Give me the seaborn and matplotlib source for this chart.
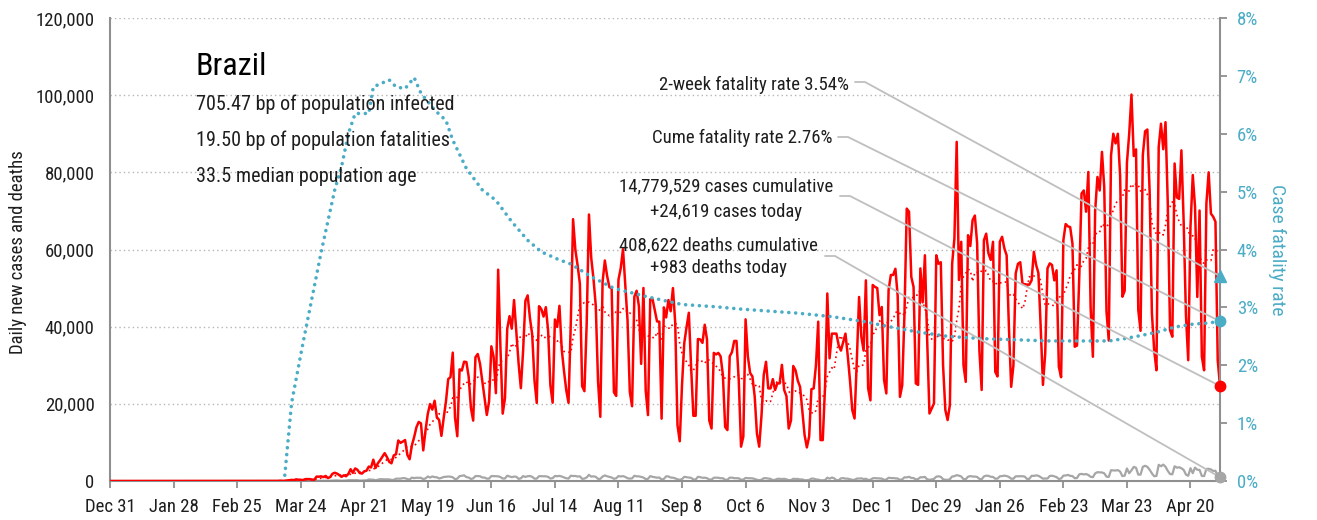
import matplotlib
matplotlib.use("Agg")
import matplotlib.pyplot as plt
import matplotlib.dates as mdates
from matplotlib import font_manager as fm
import numpy as np
import pandas as pd
import seaborn as sns

# ---------------------------------------------------------------- data
start_date = "2019-12-31"
country = "Brazil"

# daily new cases, one list per month
cases_2019_12 = [0]
cases_2020_01 = [0, 0, 0, 0, 0, 0, 0, 0, 0, 0, 0, 0, 0, 0, 0, 0,
                 0, 0, 0, 0, 0, 0, 0, 0, 0, 0, 0, 0, 0, 0, 0]
cases_2020_02 = [0, 0, 0, 0, 0, 0, 0, 0, 0, 0, 0, 0, 0, 0, 0,
                 0, 0, 0, 0, 0, 0, 0, 0, 0, 0, 1, 0, 0, 1]
cases_2020_03 = [0, 0, 0, 2, 5, 4, 6, 5, 5, 6, 18, 25, 21, 23, 79, 34, 57, 137, 193, 283,
                 224, 418, 345, 310, 232, 482, 502, 487, 352, 323, 1138]
cases_2020_04 = [1119, 1208, 1012, 1304, 770, 1031, 1873, 2136, 1922, 1546,
                 1089, 1465, 1238, 1832, 3058, 2105, 3257, 2917, 2055, 1927,
                 2498, 2678, 3735, 3503, 5514, 3379, 4613, 5385, 6276, 7218]
cases_2020_05 = [6209, 4970, 4588, 6633, 6935, 10503, 9888, 10222, 10611, 6760,
                 5632, 9258, 11385, 13944, 15305, 14919, 7938, 13140, 17408, 19951,
                 18508, 20803, 16508, 15813, 11687, 16324, 20599, 26417, 26928, 33274, 16409]
cases_2020_06 = [11598, 28936, 28633, 30925, 30830, 27075, 18912, 15654, 32091, 32913,
                 30412, 25982, 21704, 17110, 20647, 34918, 32188, 22765, 54771, 34666,
                 17459, 21432, 39436, 42725, 39483, 46907, 38693, 30476, 24052, 33846]
cases_2020_07 = [46712, 48105, 42223, 37923, 26051, 20229, 45305, 44571, 42619, 45048,
                 39023, 24831, 20286, 41857, 39924, 45403, 34177, 28532, 23529, 20257,
                 41008, 67860, 59961, 55891, 51147, 24578, 23284, 40816, 69074, 57837, 52383]
cases_2020_08 = [45392, 25800, 16641, 51603, 57152, 53139, 50230, 49970, 23010, 22048,
                 52160, 55155, 60091, 50644, 41576, 23101, 19373, 47784, 49298, 45323,
                 30355, 50032, 23421, 17078, 47134, 47161, 44235, 41350, 41305, 16158, 45000]
cases_2020_09 = [42400, 46900, 44000, 50000, 41000, 14500, 10300, 25000, 35800, 39900,
                 43600, 29600, 16900, 16900, 36800, 36700, 35800, 40500, 36700, 15700,
                 13600, 33200, 32800, 33200, 32300, 27500, 14000, 13200, 32300, 33400]
cases_2020_10 = [36300, 36300, 26000, 8900, 11500, 41900, 32300, 28000, 27100, 22000,
                 12300, 8900, 16900, 27500, 30900, 24000, 24000, 26400, 23600, 25300,
                 25300, 30100, 23600, 22000, 13600, 15700, 29800, 28700, 26000, 24400, 18000]
cases_2020_11 = [11900, 8700, 11500, 23800, 24000, 30000, 41300, 10600, 10600, 24400,
                 48600, 31800, 38200, 38200, 38200, 35200, 33800, 36000, 38200, 32500,
                 26000, 18400, 16200, 31200, 47700, 37400, 33800, 52000, 24000, 20900]
cases_2020_12 = [50800, 50300, 50000, 43000, 45100, 26200, 22700, 49500, 53400, 53400,
                 55000, 48000, 21800, 24800, 43400, 70600, 69800, 52900, 50300, 25300,
                 24900, 55100, 46300, 58500, 36500, 17500, 18800, 20100, 58500, 56300, 56700]
cases_2021_01 = [30000, 18400, 15800, 19700, 56300, 62900, 87900, 52100, 62000, 30000,
                 25700, 63700, 60900, 67600, 68800, 61700, 33900, 23600, 62400, 64100,
                 59000, 57300, 62000, 28300, 27100, 62000, 63300, 60300, 58500, 40000, 24400]
cases_2021_02 = [30000, 53800, 56300, 56700, 51100, 51000, 50900, 50900, 52000, 59400,
                 56000, 53900, 40000, 24900, 33100, 55100, 56400, 56000, 52000, 54600,
                 29600, 26900, 62400, 66600, 66000, 65800, 61500, 34800]
cases_2021_03 = [35100, 52900, 74500, 75300, 69800, 80100, 45000, 32200, 70000, 78800,
                 75300, 85300, 76200, 43900, 36400, 84400, 90000, 87500, 90000, 79069,
                 47774, 49293, 82493, 89992, 100158, 84245, 85948, 44326, 38927, 84494, 90638]
cases_2021_04 = [91097, 75000, 43500, 33900, 28700, 86600, 92600, 86000, 93000, 71800,
                 39100, 37400, 82300, 73500, 73100, 85700, 67000, 42900, 31300, 65900,
                 79300, 71000, 47700, 70100, 32200, 28700, 71900, 80000, 69300, 68500]
cases_2021_05 = [67200, 31300, 24619]

# daily new deaths, one list per month
deaths_2019_12 = [0]
deaths_2020_01 = [0, 0, 0, 0, 0, 0, 0, 0, 0, 0, 0, 0, 0, 0, 0, 0,
                  0, 0, 0, 0, 0, 0, 0, 0, 0, 0, 0, 0, 0, 0, 0]
deaths_2020_02 = [0, 0, 0, 0, 0, 0, 0, 0, 0, 0, 0, 0, 0, 0, 0,
                  0, 0, 0, 0, 0, 0, 0, 0, 0, 0, 0, 0, 0, 0]
deaths_2020_03 = [0, 0, 0, 0, 0, 0, 0, 0, 0, 0, 0, 0, 0, 0, 0, 0,
                  1, 3, 3, 4, 7, 7, 9, 12, 11, 20, 15, 22, 22, 23, 42]
deaths_2020_04 = [40, 58, 60, 73, 54, 67, 114, 133, 141, 115, 68, 99, 105, 204, 204, 188, 217, 206, 115, 113,
                  166, 165, 407, 357, 346, 189, 338, 474, 449, 435]
deaths_2020_05 = [428, 421, 275, 296, 600, 615, 610, 751, 730, 496, 396, 881, 749, 844, 824, 816, 485, 674, 1179, 888,
                  1188, 1001, 965, 653, 807, 1039, 1086, 1156, 1124, 956, 480]
deaths_2020_06 = [623, 1262, 1349, 1473, 1005, 904, 525, 679, 1272, 1274, 1239, 909, 892, 612, 627, 1282, 1269, 1238, 1206, 1022,
                  641, 654, 1374, 1185, 990, 1141, 1109, 552, 692, 1280]
deaths_2020_07 = [1038, 1252, 1290, 1091, 602, 620, 1254, 1223, 1220, 1214, 1071, 631, 733, 1300, 1233, 1322, 1163, 921, 716, 632,
                  1367, 1284, 1311, 1156, 1211, 555, 627, 921, 1595, 1129, 1212]
deaths_2020_08 = [1088, 541, 561, 1154, 1437, 1226, 1079, 905, 572, 703, 1274, 1175, 1262, 1060, 709, 620, 684, 1352, 1212, 1204,
                  1064, 892, 494, 565, 1271, 1085, 984, 855, 908, 366, 553]
deaths_2020_09 = [1215, 1184, 888, 855, 682, 447, 310, 504, 1075, 983, 874, 814, 415, 381, 1090, 987, 829, 858, 739, 377,
                  377, 836, 869, 831, 729, 717, 335, 317, 863, 865]
deaths_2020_10 = [729, 728, 695, 336, 373, 793, 734, 711, 686, 531, 309, 201, 309, 716, 734, 622, 555, 220, 314, 566,
                  566, 497, 571, 432, 225, 231, 583, 510, 538, 399, 413]
deaths_2020_11 = [190, 208, 280, 610, 620, 396, 364, 183, 172, 234, 863, 599, 895, 710, 191, 216, 676, 754, 614, 606,
                  467, 302, 292, 630, 638, 691, 505, 587, 272, 317]
deaths_2020_12 = [697, 755, 694, 672, 611, 313, 376, 842, 759, 770, 686, 641, 279, 433, 964, 936, 1092, 796, 770, 393,
                  521, 968, 963, 1054, 422, 311, 399, 551, 1111, 1224, 1074]
deaths_2021_01 = [462, 314, 293, 469, 1171, 1242, 1524, 1379, 1171, 469, 480, 1110, 1274, 1151, 1151, 1050, 551, 452, 1183, 1382,
                  1340, 1096, 1050, 592, 627, 1214, 1283, 1386, 1279, 1050, 595]
deaths_2021_02 = [595, 1209, 1209, 1232, 1239, 1127, 525, 567, 1340, 1330, 1452, 1351, 1000, 610, 650, 639, 1308, 1367, 1212, 1000,
                  527, 639, 1386, 1428, 1582, 1337, 1275, 721]
deaths_2021_03 = [778, 1726, 1840, 1699, 1800, 1555, 1086, 987, 1972, 2286, 2233, 2216, 1997, 1127, 1057, 2798, 2736, 2724, 2815, 2438,
                  1259, 1383, 3251, 2009, 2777, 3650, 3438, 1656, 1660, 3668, 3950]
deaths_2021_04 = [3673, 2922, 1987, 1240, 1319, 4195, 3829, 4249, 3693, 2616, 1803, 1738, 3808, 3459, 3560, 3305, 2865, 1657, 1347, 3321,
                  2027, 3472, 2914, 2865, 1305, 1279, 3120, 3163, 3001, 2595]
deaths_2021_05 = [2656, 1202, 983]

# cumulative case fatality rate (%)
cfr_dates = ["2020-03-17", "2020-03-20", "2020-03-25", "2020-03-30", "2020-04-02", "2020-04-08",
             "2020-04-11", "2020-04-14", "2020-04-17", "2020-04-23", "2020-04-25", "2020-05-02",
             "2020-05-05", "2020-05-09", "2020-05-13", "2020-05-16", "2020-05-22", "2020-05-27",
             "2020-05-30", "2020-06-05", "2020-06-12", "2020-06-18", "2020-06-25", "2020-07-02",
             "2020-07-08", "2020-07-16", "2020-07-21", "2020-07-30", "2020-08-09", "2020-08-24",
             "2020-09-08", "2020-09-23", "2020-10-04", "2020-10-29", "2020-11-13", "2020-11-28",
             "2020-12-09", "2020-12-20", "2021-01-03", "2021-01-18", "2021-02-02", "2021-02-17",
             "2021-03-15", "2021-03-22", "2021-03-30", "2021-04-06", "2021-04-13", "2021-04-21",
             "2021-04-28", "2021-05-03"]
cfr_pct = [0.10, 1.35, 2.38, 3.36, 3.95, 5.03,
           5.43, 6.00, 6.35, 6.35, 6.81, 6.93,
           6.81, 6.78, 6.97, 6.70, 6.41, 6.23,
           5.89, 5.40, 5.03, 4.85, 4.48, 4.16,
           3.96, 3.82, 3.75, 3.53, 3.33, 3.18,
           3.05, 3.01, 2.97, 2.90, 2.84, 2.75,
           2.66, 2.58, 2.50, 2.46, 2.44, 2.42,
           2.42, 2.46, 2.52, 2.58, 2.66, 2.71,
           2.73, 2.76]
two_week_cfr = 3.54

cum_cases = 14779529
cum_deaths = 408622
bp_infected = 705.47
bp_fatalities = 19.50
median_age = 33.5

cases = (cases_2019_12 + cases_2020_01 + cases_2020_02 + cases_2020_03 + cases_2020_04 + cases_2020_05
         + cases_2020_06 + cases_2020_07 + cases_2020_08 + cases_2020_09 + cases_2020_10 + cases_2020_11
         + cases_2020_12 + cases_2021_01 + cases_2021_02 + cases_2021_03 + cases_2021_04 + cases_2021_05)
deaths = (deaths_2019_12 + deaths_2020_01 + deaths_2020_02 + deaths_2020_03 + deaths_2020_04 + deaths_2020_05
          + deaths_2020_06 + deaths_2020_07 + deaths_2020_08 + deaths_2020_09 + deaths_2020_10 + deaths_2020_11
          + deaths_2020_12 + deaths_2021_01 + deaths_2021_02 + deaths_2021_03 + deaths_2021_04 + deaths_2021_05)
assert len(cases) == len(deaths) == 490

# ---------------------------------------------------------------- style
sns.set_theme(style="white")
installed = {f.name for f in fm.fontManager.ttflist}
base_font = next((n for n in ["Liberation Sans Narrow", "Roboto Condensed", "Open Sans Condensed"]
                  if n in installed), "DejaVu Sans")
plt.rcParams["font.family"] = [base_font, "DejaVu Sans"]
if base_font == "DejaVu Sans":
    plt.rcParams["font.stretch"] = "condensed"

RED = "#ff0000"
TEAL = "#4bacc6"
GREY = "#a6a6a6"
INK = "#1e1e1e"
LEADER = "#bfbfbf"
SPINE = "#8f8f8f"
FS = 13.5

W, H = 1317, 520
fig = plt.figure(figsize=(W / 100, H / 100), dpi=100)
L, R, T, B = 110, 1220, 18, 481
ax = fig.add_axes([L / W, 1 - B / H, (R - L) / W, (B - T) / H])
ax2 = ax.twinx()

dates = pd.date_range(start_date, periods=len(cases), freq="D")
df = pd.DataFrame({"date": dates, "cases": cases, "deaths": deaths})
df["cases_avg"] = df["cases"].rolling(7, min_periods=1).mean()
cfr_df = pd.DataFrame({"date": pd.to_datetime(cfr_dates), "cfr": cfr_pct})

sns.lineplot(data=df, x="date", y="deaths", ax=ax, color=GREY, lw=1.6, zorder=2)
sns.lineplot(data=df, x="date", y="cases_avg", ax=ax, color=RED, lw=1.2,
             linestyle=(0, (1, 2)), zorder=3)
sns.lineplot(data=df, x="date", y="cases", ax=ax, color=RED, lw=1.8, zorder=4)
sns.lineplot(data=cfr_df, x="date", y="cfr", ax=ax2, color=TEAL, lw=2.6,
             linestyle=(0, (0.01, 1.9)), dash_capstyle="round", zorder=2)

# axes ranges and ticks
ax.set_xlim(dates[0], dates[-1])
ax.set_ylim(0, 120000)
ax2.set_ylim(0, 8)
tick_dates = pd.date_range(start_date, periods=18, freq="28D")
ax.set_xticks(tick_dates)
ax.set_xticklabels([d.strftime("%b %-d") for d in tick_dates])
ax.set_yticks(np.arange(0, 120001, 20000))
ax.set_yticklabels([f"{v:,}" for v in range(0, 120001, 20000)])
ax2.set_yticks(range(0, 9))
ax2.set_yticklabels([f"{v}%" for v in range(0, 9)])
ax.set_xlabel("")
ax.set_ylabel("")
ax2.set_xlabel("")
ax2.set_ylabel("")

ax.yaxis.grid(True, color="#b5b5b5", linestyle=(0, (1, 2.2)), lw=1.0)
ax.xaxis.grid(False)
ax2.grid(False)

for a in (ax, ax2):
    a.spines["top"].set_visible(False)
ax.spines["right"].set_visible(False)
ax2.spines["left"].set_visible(False)
ax2.spines["bottom"].set_visible(False)
for sp in (ax.spines["left"], ax.spines["bottom"], ax2.spines["right"]):
    sp.set_color(SPINE)
    sp.set_linewidth(1.5)

ax.tick_params(axis="x", bottom=True, length=5, width=1.3, color=SPINE, pad=7,
               labelsize=FS, labelcolor=INK, direction="out")
ax.tick_params(axis="y", left=False, length=0, pad=11, labelsize=FS, labelcolor=INK)
ax2.tick_params(axis="y", right=True, length=5, width=1.3, color=SPINE, pad=7,
                labelsize=FS, labelcolor=TEAL, direction="out")

# axis titles
fig.text(18 / W, 1 - 252 / H, "Daily new cases and deaths", rotation=90,
         ha="center", va="center", fontsize=FS, color=INK)
fig.text(1277 / W, 1 - 250 / H, "Case fatality rate", rotation=270,
         ha="center", va="center", fontsize=14, color=TEAL)

# country summary
fig.text(196 / W, 1 - 75 / H, country, fontsize=23, color="black", va="baseline")
info = [f"{bp_infected:.2f} bp of population infected",
        f"{bp_fatalities:.2f} bp of population fatalities",
        f"{median_age} median population age"]
for text, base in zip(info, [110, 146.5, 181.5]):
    fig.text(196 / W, 1 - base / H, text, fontsize=14.5, color=INK, va="baseline")

# end-of-series callouts
fig.text(849 / W, 1 - 90 / H, f"2-week fatality rate {two_week_cfr:.2f}%",
         ha="right", va="baseline", fontsize=FS, color=INK)
fig.text(832 / W, 1 - 143 / H, f"Cume fatality rate {cfr_pct[-1]:.2f}%",
         ha="right", va="baseline", fontsize=FS, color=INK)
fig.text(726 / W, 1 - 191.5 / H, f"{cum_cases:,} cases cumulative",
         ha="center", va="baseline", fontsize=FS, color=INK)
fig.text(726 / W, 1 - 216.5 / H, f"+{cases[-1]:,} cases today",
         ha="center", va="baseline", fontsize=FS, color=INK)
fig.text(718.5 / W, 1 - 250 / H, f"{cum_deaths:,} deaths cumulative",
         ha="center", va="baseline", fontsize=FS, color=INK)
fig.text(718.5 / W, 1 - 273 / H, f"+{deaths[-1]:,} deaths today",
         ha="center", va="baseline", fontsize=FS, color=INK)

last_x = mdates.date2num(dates[-1])
to_fig = fig.transFigure.inverted()


def leader(start_px, axis, y_value):
    """Elbow line from a callout label to the last point of a series."""
    x0, y0 = start_px
    end = to_fig.transform(axis.transData.transform((last_x, y_value)))
    xs = [x0 / W, (x0 + 10) / W, end[0]]
    ys = [1 - y0 / H, 1 - y0 / H, end[1]]
    ax2.plot(xs, ys, color=LEADER, lw=1.3, transform=fig.transFigure,
             clip_on=False, scalex=False, scaley=False, zorder=3)


leader((855, 82), ax2, two_week_cfr)
leader((838, 137), ax2, cfr_pct[-1])
leader((840, 196), ax, cases[-1])
leader((825, 256), ax, deaths[-1])

ax2.plot([last_x], [two_week_cfr], marker="^", ms=9, color=TEAL, clip_on=False,
         scalex=False, scaley=False, zorder=6)
ax2.plot([last_x], [cfr_pct[-1]], marker="o", ms=7.5, color=TEAL, clip_on=False,
         scalex=False, scaley=False, zorder=6)
ax2.plot([last_x], [cases[-1]], marker="o", ms=7.5, color=RED, clip_on=False,
         transform=ax.transData, scalex=False, scaley=False, zorder=6)
ax2.plot([last_x], [deaths[-1]], marker="o", ms=7.5, color=GREY, clip_on=False,
         transform=ax.transData, scalex=False, scaley=False, zorder=6)

ax2.set_ylim(0, 8)
fig.savefig("out.png", dpi=100)
